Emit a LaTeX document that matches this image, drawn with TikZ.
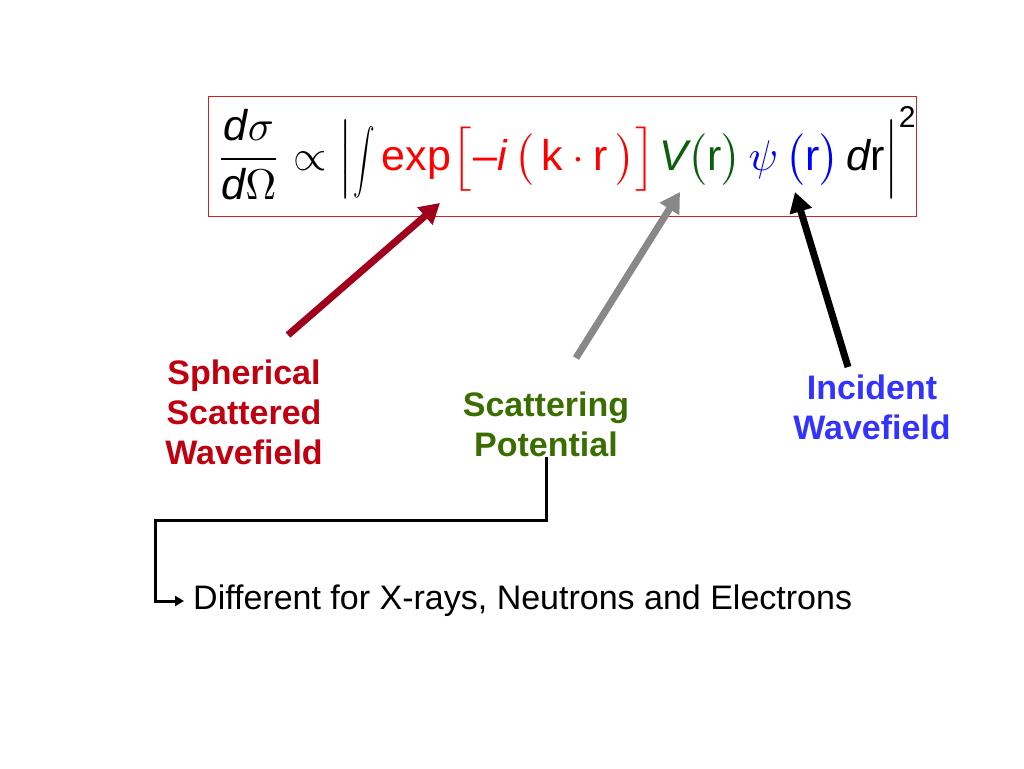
\documentclass[tikz,border=0pt]{standalone}
\usepackage{amsmath}
\usepackage{graphicx}
\usepackage{fontspec}
\setmainfont{Liberation Sans}
\usetikzlibrary{arrows.meta}
\newcommand\dd[3]{\vcenter{\hbox{\scalebox{1}[#3]{$\nulldelimiterspace0pt\left#2\vcenter to #1{}\right.$}}}}
\definecolor{fred}{HTML}{FF0000}
\definecolor{fgreen}{HTML}{0B5E0B}
\definecolor{fblue}{HTML}{0000FF}
\definecolor{lred}{HTML}{C0000F}
\definecolor{lgreen}{HTML}{3A6E00}
\definecolor{lblue}{HTML}{3333FF}
\definecolor{ared}{HTML}{A0001C}
\definecolor{agray}{HTML}{888888}
\definecolor{boxred}{HTML}{CC2222}
\tikzset{
  lbl/.style={font=\fontsize{34}{40}\selectfont\bfseries, align=center, inner sep=0pt},
  bigarrow/.style={line width=7pt, -{Triangle[length=20pt,width=22pt]}},
  conn/.style={line width=3pt, -{Triangle[length=9pt,width=10pt]}},
}
\begin{document}
\begin{tikzpicture}[x=1pt,y=-1pt]
\useasboundingbox (0,0) rectangle (1024,768);
% formula box
\node[draw=boxred, line width=1pt, minimum width=708pt, minimum height=120pt, inner sep=0pt] (box) at (562,156) {};
\node[anchor=base west, inner sep=0pt] (formula) at (216,170) {\scalebox{4.3}{$\displaystyle
\frac{\textit{d}\sigma}{\textit{d}\Omega}\propto\mathopen{\dd{19.5pt}{|}{1}}\scalebox{0.5}[0.75]{$\displaystyle\int$}\,
\color{fred}\text{exp}\mathopen{\dd{19.5pt}{[}{0.83}}\mskip1mu\text{\textendash}\textit{i}\,\mathopen{\dd{12pt}{(}{1}}\,\text{k}\cdot\text{r}\,\mathclose{\dd{12pt}{)}{1}}\mathclose{\dd{19.5pt}{]}{0.83}}\mskip1.5mu
\color{fgreen}\textit{V}\mathopen{\dd{12pt}{(}{1}}\text{r}\mathclose{\dd{12pt}{)}{1}}\,
\color{fblue}\psi\,\mathopen{\dd{12pt}{(}{1}}\text{r}\mathclose{\dd{12pt}{)}{1}}\,
\color{black}\textit{d}\text{r}\mathclose{\dd{19.5pt}{|}{1}}^{\text{2}}$}};
% labels
\node[lbl, text=lred] (sph) at (244,412) {Spherical\\Scattered\\Wavefield};
\node[lbl, text=lgreen] (pot) at (546,424) {Scattering\\Potential};
\node[lbl, text=lblue] (inc) at (872,407) {Incident\\Wavefield};
\node[anchor=west, inner sep=0pt, font=\fontsize{34}{40}\selectfont] (diff) at (193,601) {Different for X-rays, Neutrons and Electrons};
% arrow targets
\coordinate (texp) at (440,203);
\coordinate (tV) at (680,192);
\coordinate (tpsi) at (795,192);
\coordinate (ssph) at (288,335);
\coordinate (spot) at (576,358);
\coordinate (sinc) at (848,367);
\draw[bigarrow, ared] (ssph) -- (texp);
\draw[bigarrow, agray] (spot) -- (tV);
\draw[bigarrow, black] (sinc) -- (tpsi);
% connector
\coordinate (corner) at (155,520);
\draw[conn] (pot.south) |- (corner) |- ([xshift=-9pt]diff.west);
\end{tikzpicture}
\end{document}
